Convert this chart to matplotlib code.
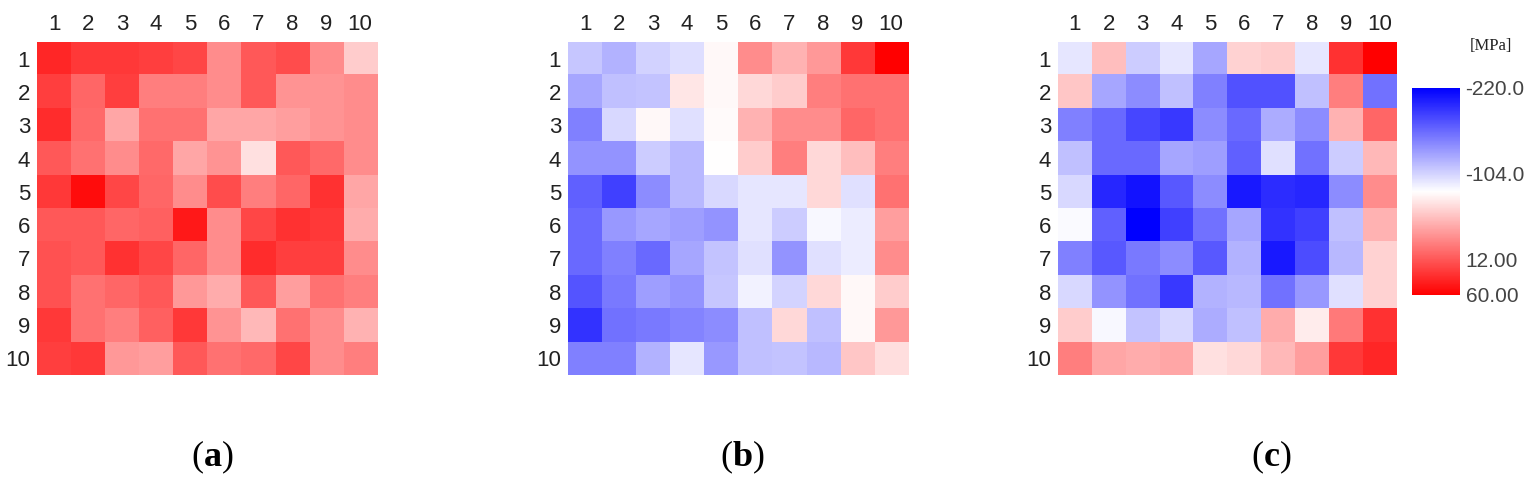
import numpy as np
import matplotlib
matplotlib.use("Agg")
import matplotlib.pyplot as plt
from matplotlib.colors import LinearSegmentedColormap, Normalize
from matplotlib.cm import ScalarMappable

plt.rcParams["mathtext.fontset"] = "custom"
plt.rcParams["mathtext.rm"] = "Liberation Serif"
plt.rcParams["mathtext.bf"] = "Liberation Serif:bold"

# Grid labels
col_labels = [str(i) for i in range(1, 11)]
row_labels = [str(i) for i in range(1, 11)]
panel_labels = ["a", "b", "c"]

# Stress values [MPa], rows 1..10 (top to bottom), columns 1..10
stress_a = [
    [39, 29, 29, 25, 21, -17, 11, 18, -17, -52],
    [25, 4, 25, -10, -10, -17, 11, -21, -21, -17],
    [35, 1, -31, -3, -3, -31, -31, -27, -21, -17],
    [11, -3, -17, 1, -31, -21, -63, 11, 1, -17],
    [29, 53, 21, 4, -17, 18, -10, 4, 32, -31],
    [11, 11, 4, 7, 46, -17, 21, 32, 29, -35],
    [15, 11, 32, 21, 4, -17, 35, 25, 25, -17],
    [15, -3, 4, 11, -24, -35, 11, -27, -3, -10],
    [29, -3, -10, 7, 29, -21, -41, -3, -17, -38],
    [25, 29, -24, -27, 11, -3, 1, 21, -17, -10],
]
stress_b = [
    [-111, -122, -105, -98, -76, -17, -38, -24, 29, 60],
    [-129, -115, -112, -66, -76, -59, -52, -10, -3, -3],
    [-150, -101, -76, -97, -77, -38, -17, -17, 4, -3],
    [-139, -139, -108, -119, -80, -52, -10, -59, -45, -10],
    [-167, -185, -143, -119, -101, -94, -94, -59, -97, -3],
    [-161, -136, -129, -133, -139, -94, -108, -84, -90, -27],
    [-161, -150, -161, -129, -112, -97, -139, -97, -90, -17],
    [-174, -153, -133, -139, -111, -87, -104, -59, -76, -52],
    [-192, -157, -153, -147, -143, -115, -59, -115, -76, -24],
    [-150, -150, -122, -94, -136, -115, -112, -119, -49, -62],
]
stress_c = [
    [-94, -45, -108, -94, -129, -55, -52, -94, 32, 60],
    [-49, -129, -143, -115, -150, -175, -175, -115, -10, -157],
    [-150, -161, -181, -189, -143, -161, -125, -143, -38, 4],
    [-115, -161, -161, -129, -133, -167, -97, -157, -108, -41],
    [-101, -199, -210, -171, -143, -206, -195, -199, -143, -17],
    [-83, -167, -220, -185, -157, -129, -192, -185, -115, -38],
    [-150, -171, -153, -143, -171, -122, -206, -178, -119, -55],
    [-101, -139, -157, -189, -122, -119, -157, -136, -97, -55],
    [-52, -84, -112, -101, -125, -115, -35, -70, -7, 32],
    [-10, -31, -35, -31, -63, -59, -41, -27, 29, 39],
]

cbar_ticks = [-220.0, -104.0, 12.0, 60.0]
cbar_ticklabels = ["-220.0", "-104.0", "12.00", "60.00"]
vmin, vmax = -220, 60

cmap = LinearSegmentedColormap.from_list("bwr_mpa", ["#0000ff", "#ffffff", "#ff0000"])
norm = Normalize(vmin=vmin, vmax=vmax)

fig = plt.figure(figsize=(15.36, 4.88), dpi=100)

positions = [
    [0.0241, 0.2316, 0.2214, 0.6824],
    [0.3698, 0.2316, 0.2214, 0.6824],
    [0.6888, 0.2316, 0.2207, 0.6824],
]
label_x = [0.1380, 0.4830, 0.8275]

for data, pos, lab, lx in zip([stress_a, stress_b, stress_c], positions, panel_labels, label_x):
    ax = fig.add_axes(pos)
    ax.imshow(np.array(data, dtype=float), cmap=cmap, norm=norm, aspect="auto",
              interpolation="nearest")
    ax.set_xticks(range(10))
    ax.set_xticklabels(col_labels, family="Liberation Sans", fontsize=16, color="#222222")
    ax.set_yticks(range(10))
    ax.set_yticklabels(row_labels, family="Liberation Sans", fontsize=16, color="#222222")
    ax.xaxis.tick_top()
    ax.tick_params(length=0, pad=5)
    for s in ax.spines.values():
        s.set_visible(False)
    fig.text(lx, 0.045, "(" + r"$\mathbf{" + lab + "}$" + ")", ha="center", va="baseline",
             family="Liberation Serif", fontsize=26)

cax = fig.add_axes([0.9193, 0.3955, 0.03125, 0.4242])
sm = ScalarMappable(norm=norm, cmap=cmap)
cb = fig.colorbar(sm, cax=cax, ticks=cbar_ticks)
cb.ax.invert_yaxis()
cb.ax.set_yticklabels(cbar_ticklabels, family="Liberation Sans", fontsize=15, color="#444444")
cb.ax.tick_params(length=0, pad=4)
cb.outline.set_visible(False)
fig.text(0.9705, 0.905, "[MPa]", ha="center", va="center", family="Liberation Serif",
         fontsize=12, color="#222222")

fig.savefig("out.png", dpi=100)
